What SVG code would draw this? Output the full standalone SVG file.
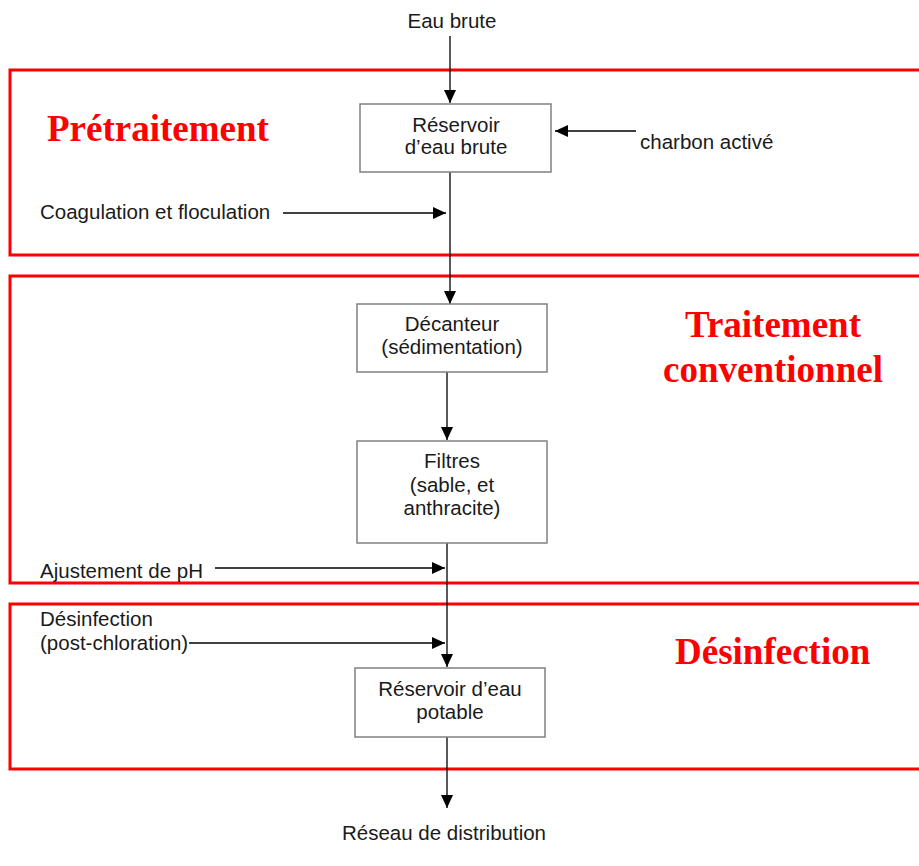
<svg xmlns="http://www.w3.org/2000/svg" width="919" height="866" viewBox="0 0 919 866">
<style>
.zone{fill:none;stroke:#ff0000;stroke-width:3}
.ztitle{font-family:"Liberation Serif","Times New Roman",serif;font-weight:bold;font-size:37px;fill:#ff0000}
.box{fill:#ffffff;stroke:#808080;stroke-width:1.5}
.lbl{font-family:"Liberation Sans",Arial,sans-serif;font-size:20.5px;fill:#1a1a1a}
.mid{text-anchor:middle}
.ln{fill:none;stroke:#000000;stroke-width:1.3}
</style>
<defs>
<marker id="ah" markerWidth="13" markerHeight="13" viewBox="0 0 13 13" refX="13" refY="6.5" orient="auto" markerUnits="userSpaceOnUse">
<path d="M0,0.5 L13,6.5 L0,12.5 Z" fill="#000000"/>
</marker>
</defs>
<rect width="919" height="866" fill="#ffffff"/>
<g id="zones">
<rect class="zone" x="10" y="70" width="925" height="185"/>
<rect class="zone" x="10" y="276" width="925" height="307"/>
<rect class="zone" x="10" y="604" width="925" height="165"/>
<text class="ztitle" x="47" y="141">Prétraitement</text>
<text class="ztitle mid" x="773" y="337">Traitement</text>
<text class="ztitle mid" x="773" y="382">conventionnel</text>
<text class="ztitle" x="675" y="664">Désinfection</text>
</g>
<g id="connectors">
<line class="ln" x1="450" y1="36" x2="450" y2="103" marker-end="url(#ah)"/>
<line class="ln" x1="450" y1="172" x2="450" y2="304" marker-end="url(#ah)"/>
<line class="ln" x1="636" y1="131" x2="555" y2="131" marker-end="url(#ah)"/>
<line class="ln" x1="283" y1="213" x2="446" y2="213" marker-end="url(#ah)"/>
<line class="ln" x1="447" y1="372" x2="447" y2="440" marker-end="url(#ah)"/>
<line class="ln" x1="447" y1="543" x2="447" y2="667" marker-end="url(#ah)"/>
<line class="ln" x1="215" y1="568" x2="445" y2="568" marker-end="url(#ah)"/>
<line class="ln" x1="189" y1="643" x2="445" y2="643" marker-end="url(#ah)"/>
<line class="ln" x1="447" y1="737" x2="447" y2="808" marker-end="url(#ah)"/>
</g>
<g id="n-eau-brute"><text class="lbl mid" x="452" y="28">Eau brute</text></g>
<g id="n-reservoir-brute">
<rect class="box" x="360" y="104" width="191" height="68"/>
<text class="lbl mid" x="456" y="132">Réservoir</text>
<text class="lbl mid" x="456" y="154">d’eau brute</text>
</g>
<g id="n-charbon"><text class="lbl" x="640" y="149">charbon activé</text></g>
<g id="n-coagulation"><text class="lbl" x="40" y="219">Coagulation et floculation</text></g>
<g id="n-decanteur">
<rect class="box" x="357" y="304" width="190" height="68"/>
<text class="lbl mid" x="452" y="331">Décanteur</text>
<text class="lbl mid" x="452" y="354">(sédimentation)</text>
</g>
<g id="n-filtres">
<rect class="box" x="357" y="441" width="190" height="102"/>
<text class="lbl mid" x="452" y="468">Filtres</text>
<text class="lbl mid" x="452" y="492">(sable, et</text>
<text class="lbl mid" x="452" y="515">anthracite)</text>
</g>
<g id="n-ph"><text class="lbl" x="40" y="578">Ajustement de pH</text></g>
<g id="n-desinfection">
<text class="lbl" x="40" y="626">Désinfection</text>
<text class="lbl" x="40" y="650">(post-chloration)</text>
</g>
<g id="n-reservoir-potable">
<rect class="box" x="355" y="668" width="190" height="69"/>
<text class="lbl mid" x="450" y="696">Réservoir d’eau</text>
<text class="lbl mid" x="450" y="719">potable</text>
</g>
<g id="n-reseau"><text class="lbl mid" x="444" y="840">Réseau de distribution</text></g>
</svg>
